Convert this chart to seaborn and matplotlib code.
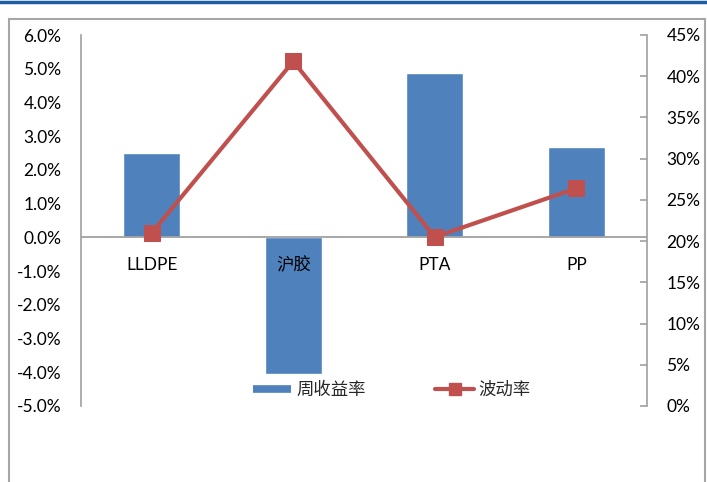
import matplotlib
matplotlib.use("Agg")
import matplotlib.pyplot as plt
import seaborn as sns
from matplotlib.lines import Line2D
from matplotlib.patches import Rectangle
from matplotlib.ticker import FuncFormatter, MultipleLocator
import matplotlib.transforms as mtransforms

categories = ["LLDPE", "沪胶", "PTA", "PP"]
weekly_return = [2.50, -4.04, 4.87, 2.67]   # 周收益率 (%)
volatility = [21.0, 41.8, 20.5, 26.4]       # 波动率 (%)
left_ticks = [-5, -4, -3, -2, -1, 0, 1, 2, 3, 4, 5, 6]
right_ticks = [0, 5, 10, 15, 20, 25, 30, 35, 40, 45]
legend_labels = ["周收益率", "波动率"]

sns.set_theme(style="white")
plt.rcParams['font.family'] = ['Lato', 'Noto Sans CJK SC', 'DejaVu Sans']

BLUE = "#4F81BD"
RED = "#C0504D"
GRAY = "#A0A0A0"

W, H = 707, 482
fig = plt.figure(figsize=(W / 100, H / 100), dpi=100)
fig.patch.set_facecolor("white")

# outer frame and top blue rule
fig.add_artist(Rectangle((9 / W, -0.02), (705 - 9) / W, (H - 19) / H + 0.02,
                         transform=fig.transFigure, fill=False,
                         edgecolor="#A6A6A6", linewidth=1.5))
fig.add_artist(Line2D([0, 1], [1 - 2 / H, 1 - 2 / H], transform=fig.transFigure,
                      color="#1F5CA6", linewidth=2.5))

ax = fig.add_axes([81 / W, 1 - 406 / H, (647 - 81) / W, (406 - 35) / H])
ax.set_facecolor("none")

sns.barplot(x=categories, y=weekly_return, ax=ax, color=BLUE, width=0.4,
            saturation=1, zorder=2)
ax.set_ylim(-5, 6)
ax.set_xlim(-0.5, 3.5)
ax.set_yticks(left_ticks)
ax.yaxis.set_major_formatter(FuncFormatter(lambda v, p: f"{v:.1f}%"))
ax.tick_params(axis="y", length=0, pad=14, labelsize=12.5, colors="black")
ax.tick_params(axis="x", length=0, labelbottom=False)
ax.axhline(0, color=GRAY, linewidth=1.3, zorder=3)
for s in ["top", "bottom", "right"]:
    ax.spines[s].set_visible(False)
ax.spines["left"].set_color(GRAY)
ax.spines["left"].set_linewidth(1.2)
ax.set_xlabel("")
ax.set_ylabel("")

# category labels just below the zero line
trans = mtransforms.blended_transform_factory(ax.transData, ax.transData)
for i, c in enumerate(categories):
    t = ax.text(i, 0, c, transform=trans, ha="center", va="center",
                fontsize=12.5, color="black")
    t.set_transform(trans + mtransforms.ScaledTranslation(0, -28 / 100, fig.dpi_scale_trans))

ax2 = ax.twinx()
sns.lineplot(x=categories, y=volatility, ax=ax2, color=RED, linewidth=3,
             marker="s", markersize=11, markeredgecolor=RED, markerfacecolor=RED,
             zorder=5, sort=False)
ax2.set_ylim(0, 45)
ax2.set_xlim(-0.5, 3.5)
ax2.set_yticks(right_ticks)
ax2.yaxis.set_major_formatter(FuncFormatter(lambda v, p: f"{v:.0f}%"))
ax2.tick_params(axis="y", direction="in", length=5, width=1.2, color=GRAY,
                pad=14, labelsize=12.5, labelcolor="black", right=True)
for s in ["top", "bottom", "left"]:
    ax2.spines[s].set_visible(False)
ax2.spines["right"].set_color(GRAY)
ax2.spines["right"].set_linewidth(1.2)
ax2.set_xlabel("")
ax2.set_ylabel("")
if ax2.get_legend():
    ax2.get_legend().remove()

handles = [
    Line2D([], [], color=BLUE, linewidth=5.5, solid_capstyle="butt"),
    Line2D([], [], color=RED, linewidth=3, marker="s", markersize=8),
]
fig.legend(handles, legend_labels, loc="center", bbox_to_anchor=(392 / W, 1 - 390 / H),
           ncol=2, frameon=False, fontsize=12.5, handlelength=2.2,
           handletextpad=0.3, columnspacing=4.0, borderaxespad=0)

fig.savefig("out.png", dpi=100)
